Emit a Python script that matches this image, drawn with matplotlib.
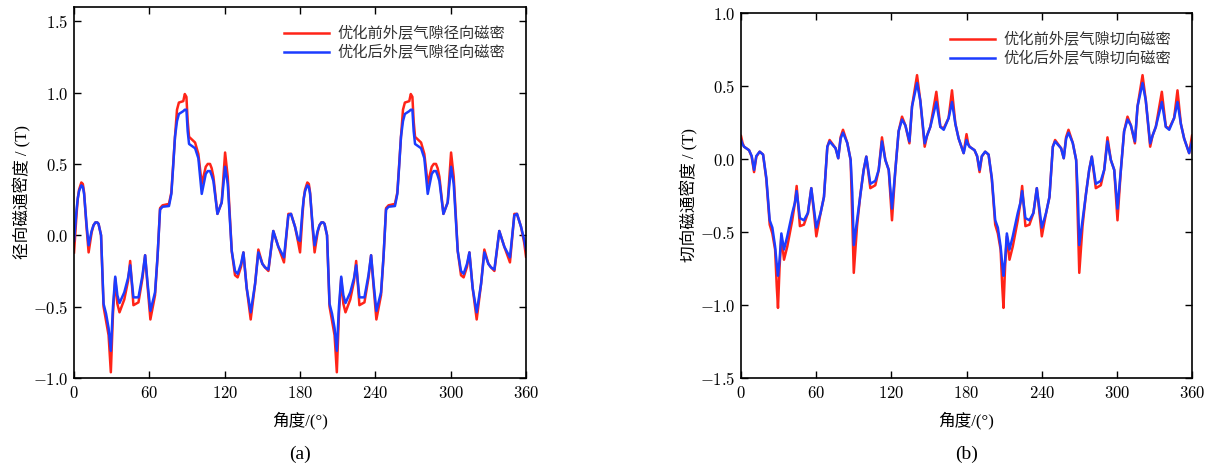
import numpy as np
import matplotlib
matplotlib.use("Agg")
import matplotlib.pyplot as plt
from matplotlib.ticker import FuncFormatter, MultipleLocator

plt.rcParams["mathtext.fontset"] = "cm"
CN = ["Liberation Serif", "Noto Sans CJK SC"]

# ---- radial flux density (panel a) ----
angle_r = [
    0, 2, 3, 4, 5.8, 7, 8, 10, 11.6, 14, 15.5, 17, 18.5, 19.5, 21.5, 23.5, 25.5, 27.5, 29.3, 31, 32.8,
    34.5, 36.2, 40, 43, 44.7, 47.3, 51.3, 54.5, 56.6, 58.5, 60.8, 64.5, 66.5, 68.5, 70.5, 75.6, 77.5,
    79, 80.4, 82, 83.5, 87, 88.2, 89.5, 90.5, 91.6, 96.4, 99, 101.7, 104.9, 106.5, 108.3, 109.6, 111,
    114.2, 117.6, 120.3, 122.4, 125.6, 128.2, 130.3, 133, 134.9, 137.5, 140.7, 144.2, 146.8, 150,
    152.1, 154.8, 158.7, 162.7, 167.2, 170.7, 172.8, 176, 178.5,
    180, 182, 183, 184, 185.8, 187, 188, 190, 191.6, 194, 195.5, 197, 198.5, 199.5, 201.5, 203.5, 205.5,
    207.5, 209.3, 211, 212.8, 214.5, 216.2, 220, 223, 224.7, 227.3, 231.3, 234.5, 236.6, 238.5, 240.8,
    244.5, 246.5, 248.5, 250.5, 255.6, 257.5, 259, 260.4, 262, 263.5, 267, 268.2, 269.5, 270.5, 271.6,
    276.4, 279, 281.7, 284.9, 286.5, 288.3, 289.6, 291, 294.2, 297.6, 300.3, 302.4, 305.6, 308.2,
    310.3, 313, 314.9, 317.5, 320.7, 324.2, 326.8, 330, 332.1, 334.8, 338.7, 342.7, 347.2, 350.7,
    352.8, 356, 358.5, 360,
]
br_before = [
    -0.12, 0.15, 0.26, 0.32, 0.37, 0.36, 0.30, 0.05, -0.12, 0.02, 0.07, 0.09, 0.09, 0.08, 0.00, -0.50,
    -0.60, -0.70, -0.96, -0.55, -0.30, -0.48, -0.54, -0.45, -0.32, -0.18, -0.49, -0.47, -0.30, -0.14,
    -0.35, -0.59, -0.42, -0.15, 0.19, 0.21, 0.22, 0.30, 0.50, 0.69, 0.88, 0.93, 0.94, 0.99, 0.97, 0.80,
    0.69, 0.65, 0.57, 0.36, 0.48, 0.50, 0.50, 0.47, 0.41, 0.15, 0.23, 0.58, 0.41, -0.11, -0.28, -0.295,
    -0.22, -0.12, -0.37, -0.59, -0.34, -0.10, -0.20, -0.225, -0.25, 0.03, -0.08, -0.19, 0.15, 0.15,
    0.06, -0.05,
    -0.12, 0.15, 0.26, 0.32, 0.37, 0.36, 0.30, 0.05, -0.12, 0.02, 0.07, 0.09, 0.09, 0.08, 0.00, -0.50,
    -0.60, -0.70, -0.96, -0.55, -0.30, -0.48, -0.54, -0.45, -0.32, -0.18, -0.49, -0.47, -0.30, -0.14,
    -0.35, -0.59, -0.42, -0.15, 0.19, 0.21, 0.22, 0.30, 0.50, 0.69, 0.88, 0.93, 0.94, 0.99, 0.97, 0.80,
    0.69, 0.65, 0.57, 0.36, 0.48, 0.50, 0.50, 0.47, 0.41, 0.15, 0.23, 0.58, 0.41, -0.11, -0.28, -0.295,
    -0.22, -0.12, -0.37, -0.59, -0.34, -0.10, -0.20, -0.225, -0.25, 0.03, -0.08, -0.19, 0.15, 0.15,
    0.06, -0.05, -0.15,
]
br_after = [
    -0.04, 0.18, 0.26, 0.31, 0.35, 0.34, 0.29, 0.07, -0.07, 0.03, 0.07, 0.09, 0.09, 0.08, 0.00, -0.48,
    -0.55, -0.65, -0.81, -0.50, -0.29, -0.42, -0.475, -0.40, -0.30, -0.21, -0.435, -0.435, -0.28, -0.14,
    -0.33, -0.53, -0.40, -0.15, 0.18, 0.20, 0.205, 0.29, 0.49, 0.69, 0.80, 0.85, 0.87, 0.88, 0.88, 0.73,
    0.64, 0.61, 0.54, 0.29, 0.43, 0.45, 0.45, 0.42, 0.38, 0.15, 0.23, 0.48, 0.36, -0.11, -0.25, -0.27,
    -0.20, -0.12, -0.37, -0.54, -0.34, -0.12, -0.20, -0.225, -0.24, 0.03, -0.08, -0.155, 0.14, 0.15,
    0.06, -0.03,
    -0.04, 0.18, 0.26, 0.31, 0.35, 0.34, 0.29, 0.07, -0.07, 0.03, 0.07, 0.09, 0.09, 0.08, 0.00, -0.48,
    -0.55, -0.65, -0.81, -0.50, -0.29, -0.42, -0.475, -0.40, -0.30, -0.21, -0.435, -0.435, -0.28, -0.14,
    -0.33, -0.53, -0.40, -0.15, 0.18, 0.20, 0.205, 0.29, 0.49, 0.69, 0.80, 0.85, 0.87, 0.88, 0.88, 0.73,
    0.64, 0.61, 0.54, 0.29, 0.43, 0.45, 0.45, 0.42, 0.38, 0.15, 0.23, 0.48, 0.36, -0.11, -0.25, -0.27,
    -0.20, -0.12, -0.37, -0.54, -0.34, -0.12, -0.20, -0.225, -0.24, 0.03, -0.08, -0.155, 0.14, 0.15,
    0.06, -0.03, -0.10,
]

# ---- tangential flux density (panel b) ----
angle_t = [
    0, 1.2, 2.4, 6.4, 8.5, 10.4, 12.2, 14.9, 17.6, 20.2, 22.9, 25, 27.2, 28.5, 29.5, 30.8, 32.2, 34.3,
    36.9, 40.9, 43, 44.4, 47, 50.2, 53.4, 56.1, 58, 60.1, 63.5, 66.2, 68.9, 70.7, 75.5, 77.6, 79.5,
    81.4, 84.8, 87.5, 88.8, 90, 92.6, 95.3, 97.9, 100, 103.2, 107.2, 109.9, 112.5, 115.2, 117.9, 120.5,
    123.2, 125.8, 128.5, 131.2, 134.4, 136.5, 140.5, 143.1, 146.6, 148.5, 151.1, 155.9, 159.1, 161.8,
    165.7, 168.4, 171.1, 173.7, 177.7,
    180, 181.2, 182.4, 186.4, 188.5, 190.4, 192.2, 194.9, 197.6, 200.2, 202.9, 205, 207.2, 208.5, 209.5,
    210.8, 212.2, 214.3, 216.9, 220.9, 223, 224.4, 227, 230.2, 233.4, 236.1, 238, 240.1, 243.5, 246.2,
    248.9, 250.7, 255.5, 257.6, 259.5, 261.4, 264.8, 267.5, 268.8, 270, 272.6, 275.3, 277.9, 280, 283.2,
    287.2, 289.9, 292.5, 295.2, 297.9, 300.5, 303.2, 305.8, 308.5, 311.2, 314.4, 316.5, 320.5, 323.1,
    326.6, 328.5, 331.1, 335.9, 339.1, 341.8, 345.7, 348.4, 351.1, 353.7, 357.7, 360,
]
bt_before = [
    0.157, 0.11, 0.084, 0.06, 0.016, -0.09, 0.016, 0.05, 0.03, -0.14, -0.45, -0.51, -0.62, -0.87, -1.02,
    -0.735, -0.53, -0.69, -0.60, -0.42, -0.30, -0.185, -0.46, -0.45, -0.37, -0.20, -0.35, -0.53, -0.37,
    -0.26, 0.084, 0.13, 0.073, 0.005, 0.15, 0.20, 0.11, -0.007, -0.42, -0.78, -0.46, -0.24, -0.075,
    0.016, -0.20, -0.18, -0.075, 0.148, -0.007, -0.075, -0.42, -0.075, 0.19, 0.29, 0.23, 0.107, 0.36,
    0.574, 0.40, 0.084, 0.16, 0.22, 0.46, 0.22, 0.21, 0.28, 0.47, 0.24, 0.14, 0.04,
    0.17, 0.11, 0.084, 0.06, 0.016, -0.09, 0.016, 0.05, 0.03, -0.14, -0.45, -0.51, -0.62, -0.87, -1.02,
    -0.735, -0.53, -0.69, -0.60, -0.42, -0.30, -0.185, -0.46, -0.45, -0.37, -0.20, -0.35, -0.53, -0.37,
    -0.26, 0.084, 0.13, 0.073, 0.005, 0.15, 0.20, 0.11, -0.007, -0.42, -0.78, -0.46, -0.24, -0.075,
    0.016, -0.20, -0.18, -0.075, 0.148, -0.007, -0.075, -0.42, -0.075, 0.19, 0.29, 0.23, 0.107, 0.36,
    0.574, 0.40, 0.084, 0.16, 0.22, 0.46, 0.22, 0.21, 0.28, 0.47, 0.24, 0.14, 0.04, 0.16,
]
bt_after = [
    0.13, 0.10, 0.084, 0.06, 0.02, -0.075, 0.02, 0.05, 0.03, -0.13, -0.42, -0.47, -0.60, -0.72, -0.80,
    -0.69, -0.51, -0.62, -0.53, -0.37, -0.30, -0.22, -0.405, -0.42, -0.37, -0.20, -0.33, -0.47, -0.37,
    -0.26, 0.084, 0.12, 0.073, 0.005, 0.14, 0.18, 0.11, -0.007, -0.23, -0.59, -0.42, -0.24, -0.075,
    0.016, -0.17, -0.15, -0.075, 0.12, -0.007, -0.075, -0.34, -0.075, 0.19, 0.27, 0.23, 0.12, 0.36,
    0.52, 0.40, 0.107, 0.16, 0.22, 0.39, 0.22, 0.20, 0.28, 0.39, 0.24, 0.14, 0.04,
    0.13, 0.10, 0.084, 0.06, 0.02, -0.075, 0.02, 0.05, 0.03, -0.13, -0.42, -0.47, -0.60, -0.72, -0.80,
    -0.69, -0.51, -0.62, -0.53, -0.37, -0.30, -0.22, -0.405, -0.42, -0.37, -0.20, -0.33, -0.47, -0.37,
    -0.26, 0.084, 0.12, 0.073, 0.005, 0.14, 0.18, 0.11, -0.007, -0.23, -0.59, -0.42, -0.24, -0.075,
    0.016, -0.17, -0.15, -0.075, 0.12, -0.007, -0.075, -0.34, -0.075, 0.19, 0.27, 0.23, 0.12, 0.36,
    0.52, 0.40, 0.107, 0.16, 0.22, 0.39, 0.22, 0.20, 0.28, 0.39, 0.24, 0.14, 0.04, 0.12,
]

RED = "#ff2418"
BLUE = "#1c3cff"


def style_axes(ax, ylim, ylabel, leg_labels):
    ax.set_xlim(0, 360)
    ax.set_ylim(*ylim)
    ax.xaxis.set_major_locator(MultipleLocator(60))
    ax.yaxis.set_major_locator(MultipleLocator(0.5))
    ax.xaxis.set_major_formatter(FuncFormatter(lambda v, p: "$%d$" % v))
    ax.yaxis.set_major_formatter(FuncFormatter(lambda v, p: "$%.1f$" % v))
    ax.tick_params(direction="in", top=True, right=True, length=5, width=1.0,
                   labelsize=12, pad=4)
    for sp in ax.spines.values():
        sp.set_linewidth(1.2)
    ax.set_xlabel("角度/(°)", family=CN, fontsize=12, labelpad=7)
    ax.set_ylabel(ylabel, family=CN, fontsize=12, labelpad=1)
    leg = ax.legend(leg_labels, loc="upper right", bbox_to_anchor=(0.985, 0.985),
                    frameon=False, handlelength=2.9, handletextpad=0.6,
                    labelspacing=0.25, prop={"family": CN, "size": 11})
    for t in leg.get_texts():
        t.set_color("#333333")


fig = plt.figure(figsize=(12.14, 4.71), dpi=100)
ax1 = fig.add_axes([0.061, 0.1975, 0.3723, 0.7877])
ax2 = fig.add_axes([0.6104, 0.1975, 0.3715, 0.775])

ax1.plot(angle_r, br_before, color=RED, lw=1.8, solid_joinstyle="round")
ax1.plot(angle_r, br_after, color=BLUE, lw=1.8, solid_joinstyle="round")
style_axes(ax1, (-1.0, 1.6), "径向磁通密度 / (T)",
           ["优化前外层气隙径向磁密", "优化后外层气隙径向磁密"])

ax2.plot(angle_t, bt_before, color=RED, lw=1.8, solid_joinstyle="round")
ax2.plot(angle_t, bt_after, color=BLUE, lw=1.8, solid_joinstyle="round")
style_axes(ax2, (-1.5, 1.0), "切向磁通密度 / (T)",
           ["优化前外层气隙切向磁密", "优化后外层气隙切向磁密"])

fig.text(0.2475, 0.025, "(a)", family=CN, fontsize=14, ha="center")
fig.text(0.796, 0.025, "(b)", family=CN, fontsize=14, ha="center")

fig.savefig("out.png", dpi=100)
